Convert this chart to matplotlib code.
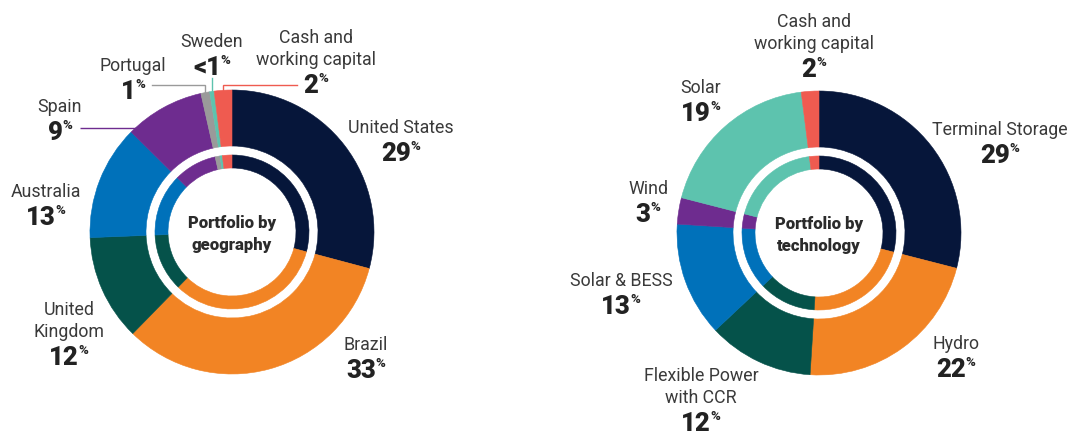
import numpy as np
import matplotlib.pyplot as plt

plt.rcParams['font.family'] = ['Roboto', 'DejaVu Sans']

NAVY, ORANGE, GREEN, BLUE = '#06163A', '#F28424', '#05524A', '#0071BA'
PURPLE, GREY, TEAL, RED = '#6E2C8F', '#9A9A9A', '#5DC3AE', '#EF5B50'

# geography split
geo_names = ['United States', 'Brazil', 'United\nKingdom', 'Australia',
             'Spain', 'Portugal', 'Sweden', 'Cash and\nworking capital']
geo_values = [29, 33, 12, 13, 9, 1, 0.5, 2]
geo_pct = ['29', '33', '12', '13', '9', '1', '<1', '2']
geo_colors = [NAVY, ORANGE, GREEN, BLUE, PURPLE, GREY, TEAL, RED]

# technology split
tech_names = ['Terminal Storage', 'Hydro', 'Flexible Power\nwith CCR',
              'Solar & BESS', 'Wind', 'Solar', 'Cash and\nworking capital']
tech_values = [29, 22, 12, 13, 3, 19, 2]
tech_pct = ['29', '22', '12', '13', '3', '19', '2']
tech_colors = [NAVY, ORANGE, GREEN, BLUE, PURPLE, TEAL, RED]

# label anchor: x centre, baseline of the percentage
geo_pos = [(401, 161), (366, 378), (69, 365), (46, 225),
           (60, 140), (133, 99), (212, 75), (316, 93)]
tech_pos = [(1000, 163), (956, 377), (701, 431), (621, 314),
            (648, 222), (701, 121), (814, 77)]

W, H = 1070, 434
R_OUT, R_HOLE, R_IN, R_IN_HOLE = 142, 86, 77, 64
TXT, NUM = '#3A3A3A', '#222222'

fig = plt.figure(figsize=(W / 100, H / 100), dpi=100)
ax = fig.add_axes([0, 0, 1, 1])


def donut(values, colors, center, title):
    kw = dict(colors=colors, startangle=-90, counterclock=True, center=center)
    for r, w in [(R_OUT, R_OUT - R_HOLE), (R_IN, R_IN - R_IN_HOLE)]:
        wedges, _ = ax.pie(values, radius=r, wedgeprops=dict(width=w, linewidth=0.4), **kw)
        for wd in wedges:
            wd.set_edgecolor(wd.get_facecolor())
    ax.text(center[0], center[1] + 2, title, ha='center', va='center',
            fontsize=12, fontweight='black', color='#2B2B2B', linespacing=1.45)


def labels(names, pcts, pos):
    for name, pct, (x, y) in zip(names, pcts, pos):
        lines = name.split('\n')
        for i, line in enumerate(reversed(lines)):
            ax.text(x, y - 28 - 22 * i, line, ha='center', va='baseline',
                    fontsize=12.8, color=TXT)
        num = ax.text(x - 5, y, pct, ha='center', va='baseline',
                      fontsize=18.5, fontweight='black', color=NUM)
        ax.annotate('%', xy=(1, 1.08), xycoords=num, xytext=(-0.3, 0),
                    textcoords='offset points', ha='left', va='top',
                    fontsize=9.5, fontweight='bold', color=NUM)


def mid_angles(values):
    v = np.asarray(values, float)
    frac = v / v.sum()
    before = np.cumsum(frac) - frac
    return np.radians(90 - 360 * (before + frac / 2))


gc = (232, 232)
tc = (819, 233)
donut(geo_values, geo_colors, gc, 'Portfolio by\ngeography')
donut(tech_values, tech_colors, tc, 'Portfolio by\ntechnology')
labels(geo_names, geo_pct, geo_pos)
labels(tech_names, tech_pct, tech_pos)

# leader lines for the narrow geography slices
ang = mid_angles(geo_values)
cx, cy = gc
# Spain: straight line into the side of the ring
ys = 128
xs = cx - np.sqrt(R_OUT ** 2 - (cy - ys) ** 2)
ax.plot([80, xs + 2], [ys, ys], color=PURPLE, lw=1, solid_capstyle='butt')
# Portugal, Sweden, Cash: up from the slice, then across
for idx, y_top, x_end, col in [(5, 85, 152, GREY), (6, 78, None, TEAL), (7, 85, 297, RED)]:
    x0 = cx + R_OUT * np.cos(ang[idx])
    y0 = cy - np.sqrt(R_OUT ** 2 - (x0 - cx) ** 2) + 2
    xsx = [x0, x0] + ([x_end] if x_end else [])
    ysy = [y0, y_top] + ([y_top] if x_end else [])
    ax.plot(xsx, ysy, color=col, lw=1, solid_joinstyle='miter')

ax.set_xlim(0, W)
ax.set_ylim(H, 0)
ax.set_aspect('equal')
ax.axis('off')

plt.savefig('out.png', dpi=100)
plt.close()
